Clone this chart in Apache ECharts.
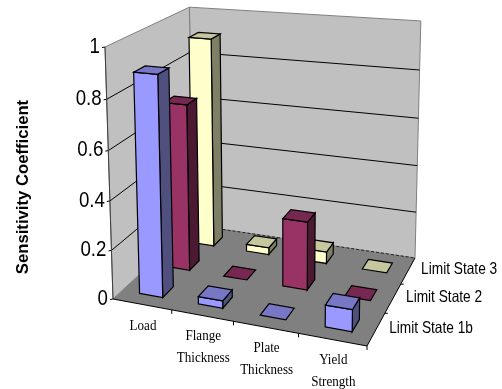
<!DOCTYPE html>
<html>
<head>
<meta charset="utf-8">
<style>html,body{margin:0;padding:0;background:#fff}#chart{width:502px;height:389px}</style>
<script src="https://cdn.jsdelivr.net/npm/echarts@6/dist/echarts.min.js"></script>
</head>
<body>
<div id="chart"></div>
<script>
const categories = ['Load', 'Flange\nThickness', 'Plate\nThickness', 'Yield\nStrength'];
const limitStates = ['Limit State 1b', 'Limit State 2', 'Limit State 3'];
const limitState1b = [0.89, 0.03, 0, 0.085];
const limitState2 = [0.70, 0, 0.28, 0];
const limitState3 = [0.91, 0.03, 0.05, 0];
const valueTicks = [0, 0.2, 0.4, 0.6, 0.8, 1];
const valueTickLabels = ['0', '0.2', '0.4', '0.6', '0.8', '1'];
const axisTitle = 'Sensitivity Coefficient';

// Face colours per limit state: front, top, side.
const palette = [
  ['#9999FF', '#7777C6', '#50507F'],
  ['#993366', '#772850', '#4C1933'],
  ['#FFFFCC', '#C6C69F', '#7F7F66']
];

// Perspective box: image of the floor corners and of the top of the front-left edge.
const O = [113, 299], U = [367, 346], V = [193, 225], C = [415, 258], W = [105, 47];
const verticalWeight = 0.955;
const det = (U[0] - C[0]) * (V[1] - C[1]) - (V[0] - C[0]) * (U[1] - C[1]);
const sx = O[0] - U[0] + C[0] - V[0], sy = O[1] - U[1] + C[1] - V[1];
const g = (sx * (V[1] - C[1]) - (V[0] - C[0]) * sy) / det;
const h = ((U[0] - C[0]) * sy - sx * (U[1] - C[1])) / det;
const wu = 1 + g, wv = 1 + h, ww = verticalWeight;

// Maps box coordinates (u along categories, v into depth, w up the value axis) to pixels.
function project(u, v, w) {
  const d = 1 + u * (wu - 1) + v * (wv - 1) + w * (ww - 1);
  return [0, 1].map(k =>
    (O[k] + u * (wu * U[k] - O[k]) + v * (wv * V[k] - O[k]) + w * (ww * W[k] - O[k])) / d);
}

const poly = (points, fill, stroke, lineWidth) => ({
  type: 'polygon', shape: { points },
  style: { fill, stroke: stroke || 'none', lineWidth: lineWidth || 1, lineJoin: 'miter' }
});
const line = (a, b, stroke, lineDash) => ({
  type: 'line', shape: { x1: a[0], y1: a[1], x2: b[0], y2: b[1] },
  style: { stroke, lineWidth: 1, lineDash: lineDash || null }
});
const text = (label, x, y, font, align, scaleX, rotation) => ({
  type: 'text', x, y, scaleX: scaleX || 1, rotation: rotation || 0,
  style: { text: label, font, fill: '#000', align, verticalAlign: 'middle', lineHeight: 22 }
});

// Walls, floor, gridlines, ticks and every axis text.
function renderFrame() {
  const c = [];
  const wallFill = '#C0C0C0', edge = '#808080';
  c.push(poly([project(0, 1, 0), project(1, 1, 0), project(1, 1, 1), project(0, 1, 1)], wallFill, edge));
  c.push(poly([project(0, 0, 0), project(0, 1, 0), project(0, 1, 1), project(0, 0, 1)], wallFill, edge));
  c.push(poly([project(0, 0, 0), project(1, 0, 0), project(1, 1, 0), project(0, 1, 0)], '#808080'));
  valueTicks.forEach((t, i) => {
    if (t > 0 && t < 1) {
      c.push(line(project(0, 0, t), project(0, 1, t), '#000'));
      c.push(line(project(0, 1, t), project(1, 1, t), '#000'));
    }
    const p = project(0, 0, t);
    c.push(line(p, [p[0] - 3, p[1] + 0.5], '#000'));
    c.push(text(valueTickLabels[i], p[0] - 5, p[1] - 0.5, '22px "Liberation Sans"', 'right', 0.85));
  });
  c.push(line(project(0, 1, 0), project(1, 1, 0), '#222', [3, 2]));
  c.push(line(project(0, 0, 0), project(0, 0, 1), '#404040'));
  c.push(line(project(0, 0, 0), project(1, 0, 0), '#000'));
  c.push(line(project(1, 0, 0), project(1, 1, 0), '#000'));
  categories.forEach((name, i) => {
    const t = project((i + 1) / categories.length, 0, 0);
    c.push(line(t, [t[0], t[1] + 4], '#000'));
    const m = project((i + 0.5) / categories.length, 0, 0);
    const twoLines = name.includes('\n');
    c.push(text(name, m[0] + 1, m[1] + (twoLines ? 31.5 : 22), '14.5px "Liberation Serif"', 'center', 0.9));
  });
  limitStates.forEach((name, j) => {
    const t = project(1, (j + 1) / limitStates.length, 0);
    if (j < limitStates.length - 1) c.push(line(t, [t[0] + 3, t[1]], '#000'));
    const m = project(1, (j + 0.5) / limitStates.length, 0);
    c.push(text(name, m[0] + 13, m[1] - 1, '16.5px "Liberation Sans"', 'left', 0.83));
  });
  c.push(text(axisTitle, 23, 187, 'bold 16.7px "Liberation Sans"', 'center', 1, Math.PI / 2));
  return { type: 'group', children: c };
}

// One 3D column, scaled through the hidden category and value axes.
function renderColumn(row, colors) {
  return function (params, api) {
    const sys = params.coordSys;
    const bottom = sys.y + sys.height;
    const base = api.coord([api.value(0), 0]);
    const peak = api.coord([api.value(0), api.value(1)]);
    const cell = api.size([1, 0])[0];
    const uc = (base[0] - sys.x) / sys.width, du = 0.2 * cell / sys.width;
    const w = (bottom - peak[1]) / sys.height;
    const vc = (row + 0.5) / limitStates.length, dv = 0.19 / limitStates.length;
    const u0 = uc - du, u1 = uc + du, v0 = vc - dv, v1 = vc + dv;
    const outline = 1.2;
    const top = poly([project(u0, v0, w), project(u1, v0, w), project(u1, v1, w), project(u0, v1, w)], colors[1], '#000', outline);
    if (api.value(1) <= 0) return top;
    return {
      type: 'group',
      children: [
        poly([project(u1, v0, 0), project(u1, v1, 0), project(u1, v1, w), project(u1, v0, w)], colors[2], '#000', outline),
        poly([project(u0, v0, 0), project(u1, v0, 0), project(u1, v0, w), project(u0, v0, w)], colors[0], '#000', outline),
        top
      ]
    };
  };
}

const rows = [limitState1b, limitState2, limitState3];
const columnSeries = rows.map((values, row) => ({
  type: 'custom',
  name: limitStates[row],
  coordinateSystem: 'cartesian2d',
  silent: true,
  clip: false,
  data: values.map((v, i) => [i, v]),
  renderItem: renderColumn(row, palette[row])
})).reverse();

const chart = echarts.init(document.getElementById('chart'), null, { renderer: 'canvas' });
chart.setOption({
  animation: false,
  backgroundColor: '#fff',
  grid: { left: 0, right: 0, top: 0, bottom: 0 },
  xAxis: { type: 'category', data: categories, show: false },
  yAxis: { type: 'value', min: 0, max: 1, interval: 0.2, show: false },
  series: [{
    type: 'custom',
    coordinateSystem: 'cartesian2d',
    silent: true,
    clip: false,
    data: [[0, 0]],
    renderItem: renderFrame
  }].concat(columnSeries)
});
</script>
</body>
</html>
